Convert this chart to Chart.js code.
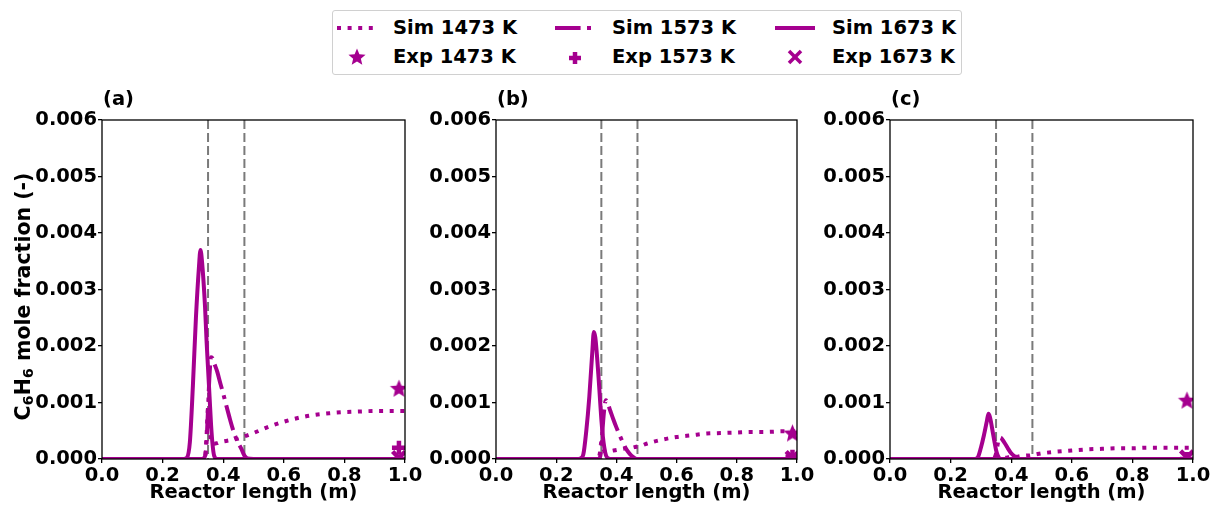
<!DOCTYPE html>
<html>
<head>
<meta charset="utf-8">
<script src="https://cdn.jsdelivr.net/npm/chart.js@4.4.1/dist/chart.umd.min.js"></script>
<style>
  html, body { margin: 0; padding: 0; background: #fff; overflow: hidden; }
  body { width: 1210px; height: 505px; position: relative; font-family: "DejaVu Sans", sans-serif; font-weight: bold; }
  canvas { position: absolute; top: 85px; }
  #legendBox { position: absolute; left: 332px; top: 10px; width: 628px; height: 63px; border: 1px solid #d0d0d0; border-radius: 3px; }
  .lg { position: absolute; height: 24px; line-height: 24px; font-size: 19.5px; color: #000; white-space: nowrap; }
  .lg svg { position: absolute; top: 2px; }
</style>
</head>
<body>
<div id="legendBox"></div>
<canvas id="panelA" width="425" height="420" style="left:0px"></canvas>
<canvas id="panelB" width="410" height="420" style="left:410px"></canvas>
<canvas id="panelC" width="420" height="420" style="left:795px"></canvas>

<script>
// --- data ---
const xGrid = [0, 0.1, 0.2, 0.25, 0.27,
               0.28, 0.29, 0.30, 0.31, 0.32,
               0.325, 0.33, 0.34, 0.345, 0.35,
               0.355, 0.36, 0.365, 0.37, 0.38,
               0.39, 0.40, 0.41, 0.42, 0.43,
               0.44, 0.45, 0.46, 0.47, 0.48,
               0.50, 0.55, 0.60, 0.65, 0.70,
               0.75, 0.80, 0.85, 0.90, 0.95,
               1.0];

// panel (a)
const simA1473 = [0, 0, 0, 0, 0,
                  0, 0, 0, 0, 0,
                  0, 0, 0.00002, 0.0004, 0.0009,
                  0.0006, 0.0003, 0.00028, 0.00027, 0.00028,
                  0.0003, 0.00031, 0.00032, 0.00033, 0.00034,
                  0.00035, 0.00036, 0.00038, 0.0004, 0.00042,
                  0.00046, 0.00057, 0.00066, 0.00073, 0.00078,
                  0.00081, 0.00083, 0.00084, 0.00085, 0.00085,
                  0.00085];
const simA1573 = [0, 0, 0, 0, 0,
                  0, 0, 0, 0, 0,
                  0, 0, 0.00005, 0.0003, 0.0009,
                  0.0015, 0.0018, 0.00178, 0.0017, 0.00155,
                  0.00135, 0.00116, 0.00095, 0.00075, 0.00056,
                  0.0004, 0.00028, 0.00018, 0.00006, 0.00001,
                  0, 0, 0, 0, 0,
                  0, 0, 0, 0, 0,
                  0];
const simA1673 = [0, 0, 0, 0, 0,
                  0.00002, 0.0003, 0.0013, 0.0025, 0.0034,
                  0.0037, 0.0035, 0.0027, 0.0021, 0.0016,
                  0.0011, 0.0006, 0.00025, 0.00006, 0,
                  0, 0, 0, 0, 0,
                  0, 0, 0, 0, 0,
                  0, 0, 0, 0, 0,
                  0, 0, 0, 0, 0,
                  0];

// panel (b)
const simB1473 = [0, 0, 0, 0, 0,
                  0, 0, 0, 0, 0,
                  0, 0, 0, 0.0001, 0.0003,
                  0.0002, 0.00014, 0.00013, 0.00013, 0.00014,
                  0.00015, 0.00016, 0.00017, 0.00018, 0.00019,
                  0.0002, 0.0002, 0.00021, 0.00022, 0.00023,
                  0.00027, 0.00034, 0.00039, 0.00042, 0.00045,
                  0.00046, 0.00047, 0.00048, 0.00048, 0.00049,
                  0.00049];
const simB1573 = [0, 0, 0, 0, 0,
                  0, 0, 0, 0, 0,
                  0, 0, 0, 0.00002, 0.0002,
                  0.0006, 0.0009, 0.00104, 0.001, 0.00085,
                  0.0007, 0.00056, 0.00043, 0.00031, 0.0002,
                  0.00012, 0.00006, 0.00002, 0, 0,
                  0, 0, 0, 0, 0,
                  0, 0, 0, 0, 0,
                  0];
const simB1673 = [0, 0, 0, 0, 0,
                  0.00001, 0.00008, 0.0005, 0.0011, 0.0019,
                  0.00225, 0.00215, 0.0015, 0.0011, 0.0007,
                  0.0004, 0.0002, 0.00007, 0.00002, 0,
                  0, 0, 0, 0, 0,
                  0, 0, 0, 0, 0,
                  0, 0, 0, 0, 0,
                  0, 0, 0, 0, 0,
                  0];

// panel (c)
const simC1473 = [0, 0, 0, 0, 0,
                  0, 0, 0, 0, 0,
                  0, 0, 0, 0.00002, 0.00005,
                  0.00004, 0.00003, 0.00002, 0.00002, 0.00002,
                  0.00003, 0.00003, 0.00004, 0.00004, 0.00005,
                  0.00005, 0.00006, 0.00006, 0.00007, 0.00008,
                  0.0001, 0.00013, 0.00015, 0.00017, 0.00018,
                  0.00019, 0.00019, 0.0002, 0.0002, 0.0002,
                  0.0002];
const simC1573 = [0, 0, 0, 0, 0,
                  0, 0, 0, 0, 0,
                  0, 0, 0, 0.00002, 0.0001,
                  0.00025, 0.00037, 0.00038, 0.00035, 0.00027,
                  0.00018, 0.0001, 0.00005, 0.00002, 0,
                  0, 0, 0, 0, 0,
                  0, 0, 0, 0, 0,
                  0, 0, 0, 0, 0,
                  0];
const simC1673 = [0, 0, 0, 0, 0,
                  0, 0.00003, 0.0002, 0.00042, 0.00068,
                  0.0008, 0.00074, 0.00045, 0.0003, 0.00016,
                  0.00007, 0.00002, 0, 0, 0,
                  0, 0, 0, 0, 0,
                  0, 0, 0, 0, 0,
                  0, 0, 0, 0, 0,
                  0, 0, 0, 0, 0,
                  0];

// experimental points, one per panel (a, b, c)
const expX    = [0.98, 0.985, 0.98];
const exp1473 = [0.00125, 0.00046, 0.00104];
const exp1573 = [0.0002, 0.00004, 0.0];
const exp1673 = [0.00002, 0.00002, 0.00003];

// reactor zone boundaries (grey dashed lines)
const zoneEdges = [0.35, 0.47];

const xTicks = [0, 0.2, 0.4, 0.6, 0.8, 1.0];
const yTicks = [0, 0.001, 0.002, 0.003, 0.004, 0.005, 0.006];

const simLabels = ["Sim 1473 K", "Sim 1573 K", "Sim 1673 K"];
const expLabels = ["Exp 1473 K", "Exp 1573 K", "Exp 1673 K"];
const panelLabels = ["(a)", "(b)", "(c)"];
// y label as pieces: [text, isSubscript]
const yTitleParts = [["C", false], ["6", true], ["H", false], ["6", true], [" mole fraction (-)", false]];

// --- styles ---
const MAGENTA = "#a5008f";
const FONT = { family: "DejaVu Sans", weight: "bold", size: 19.5 };
const DOTTED = [4, 6.6];
const DASHDOT = [25.6, 6.4, 4, 6.4];

function starPoints(cx, cy, r) {
    const pts = [];
    for (let i = 0; i < 10; i++) {
        const rr = i % 2 ? r * 0.45 : r;
        const a = -Math.PI / 2 + i * Math.PI / 5;
        pts.push([cx + rr * Math.cos(a), cy + rr * Math.sin(a)]);
    }
    return pts;
}

function starImage(r) {
    const c = document.createElement("canvas");
    const s = Math.ceil(r * 2 + 2);
    c.width = c.height = s;
    const g = c.getContext("2d");
    g.fillStyle = MAGENTA;
    g.beginPath();
    starPoints(s / 2, s / 2 + 0.8, r).forEach(p => g.lineTo(p[0], p[1]));
    g.closePath();
    g.fill();
    return c;
}
const starImg = starImage(9.5);

// ==========================
// LEGEND (html, above the panels)
// ==========================

function buildLegend() {
    const handleLeft = [337, 555, 775];
    const textLeft = [393, 612, 832];
    const rowY = [28, 57];
    const dashes = [DOTTED, DASHDOT, null];
    let html = "";
    for (let i = 0; i < 3; i++) {
        const da = dashes[i] ? `stroke-dasharray="${dashes[i].join(" ")}"` : "";
        html += `<div class="lg" style="left:${handleLeft[i]}px;top:${rowY[0] - 12}px;width:40px">
            <svg width="40" height="20"><line x1="0" y1="10" x2="40" y2="10" stroke="${MAGENTA}" stroke-width="4" ${da}/></svg></div>`;
        html += `<div class="lg" style="left:${textLeft[i]}px;top:${rowY[0] - 12}px">${simLabels[i]}</div>`;

        let marker;
        if (i === 0) {
            const pts = starPoints(20, 10.5, 9).map(p => p.join(",")).join(" ");
            marker = `<polygon points="${pts}" fill="${MAGENTA}"/>`;
        } else if (i === 1) {
            marker = `<line x1="14" y1="11" x2="26" y2="11" stroke="${MAGENTA}" stroke-width="4.5"/>
                      <line x1="20" y1="5" x2="20" y2="17" stroke="${MAGENTA}" stroke-width="4.5"/>`;
        } else {
            marker = `<line x1="14" y1="4" x2="26" y2="16" stroke="${MAGENTA}" stroke-width="3.5"/>
                      <line x1="26" y1="4" x2="14" y2="16" stroke="${MAGENTA}" stroke-width="3.5"/>`;
        }
        html += `<div class="lg" style="left:${handleLeft[i]}px;top:${rowY[1] - 12}px;width:40px">
            <svg width="40" height="20">${marker}</svg></div>`;
        html += `<div class="lg" style="left:${textLeft[i]}px;top:${rowY[1] - 12}px">${expLabels[i]}</div>`;
    }
    document.body.insertAdjacentHTML("beforeend", html);
}

// ==========================
// PANEL DECORATION: zone lines, frame, (a)/(b)/(c), y title with subscripts
// ==========================

const panelDecor = {
    id: "panelDecor",
    beforeDatasetsDraw(chart) {
        const { ctx, chartArea: a, scales: { x } } = chart;
        ctx.save();
        ctx.strokeStyle = "#7a7a7a";
        ctx.lineWidth = 2;
        ctx.setLineDash([9, 4]);
        zoneEdges.forEach(v => {
            const px = x.getPixelForValue(v);
            ctx.beginPath();
            ctx.moveTo(px, a.top);
            ctx.lineTo(px, a.bottom);
            ctx.stroke();
        });
        ctx.restore();
    },
    afterDatasetsDraw(chart, args, opts) {
        const { ctx, chartArea: a } = chart;
        ctx.save();
        ctx.strokeStyle = "#000";
        ctx.lineWidth = 1.3;
        ctx.strokeRect(a.left, a.top, a.right - a.left, a.bottom - a.top);
        ctx.fillStyle = "#000";
        ctx.font = "bold 19.5px 'DejaVu Sans'";
        ctx.textBaseline = "middle";
        ctx.textAlign = "left";
        ctx.fillText(opts.label, a.left + 1, a.top - 20);

        if (opts.yTitle) {
            const big = "bold 20.5px 'DejaVu Sans'";
            const small = "bold 14.5px 'DejaVu Sans'";
            let total = 0;
            yTitleParts.forEach(([t, sub]) => {
                ctx.font = sub ? small : big;
                total += ctx.measureText(t).width;
            });
            const cy = (a.top + a.bottom) / 2 + 7;
            ctx.translate(22, cy);
            ctx.rotate(-Math.PI / 2);
            ctx.textBaseline = "alphabetic";
            let pos = -total / 2;
            yTitleParts.forEach(([t, sub]) => {
                ctx.font = sub ? small : big;
                ctx.fillText(t, pos, sub ? 11 : 7.5);
                pos += ctx.measureText(t).width;
            });
        }
        ctx.restore();
    }
};

function simSet(ys, dash, order) {
    return {
        data: xGrid.map((x, i) => ({ x: x, y: ys[i] })),
        borderColor: MAGENTA,
        borderWidth: 4,
        borderDash: dash || [],
        borderCapStyle: "butt",
        pointRadius: 0,
        cubicInterpolationMode: "monotone",
        fill: false,
        clip: 0,
        order: order
    };
}

function expSet(x, y, style, radius, order) {
    return {
        data: [{ x: x, y: y }],
        showLine: false,
        pointStyle: style,
        pointRadius: radius,
        borderWidth: 4.5,
        borderColor: MAGENTA,
        backgroundColor: MAGENTA,
        clip: 0,
        order: order
    };
}

function makePanel(id, p, sims, yAxisWidth, rightPad) {
    const ctx = document.getElementById(id).getContext("2d");
    return new Chart(ctx, {
        type: "line",
        data: {
            datasets: [
                simSet(sims[0], DOTTED, 6),
                simSet(sims[1], DASHDOT, 5),
                simSet(sims[2], null, 4),
                expSet(expX[p], exp1473[p], starImg, 9.5, 3),
                expSet(expX[p], exp1573[p], "cross", 7, 2),
                expSet(expX[p], exp1673[p], "crossRot", 9, 1)
            ]
        },
        options: {
            responsive: false,
            animation: false,
            devicePixelRatio: 1,
            events: [],
            layout: { padding: { top: 35, right: rightPad, left: 0, bottom: 0 } },
            plugins: {
                legend: { display: false },
                tooltip: { enabled: false },
                panelDecor: { label: panelLabels[p], yTitle: p === 0 }
            },
            scales: {
                x: {
                    type: "linear",
                    min: 0,
                    max: 1,
                    afterBuildTicks: s => { s.ticks = xTicks.map(v => ({ value: v })); },
                    afterFit: s => { s.height = 46; },
                    ticks: { color: "#000", font: FONT, padding: 1, maxRotation: 0, callback: v => v.toFixed(1) },
                    grid: { drawOnChartArea: false, drawTicks: true, tickLength: 4, color: "#000", lineWidth: 1.3 },
                    border: { display: false },
                    title: { display: true, text: "Reactor length (m)", color: "#000", font: FONT, padding: { top: 0, bottom: 0 } }
                },
                y: {
                    type: "linear",
                    min: 0,
                    max: 0.006,
                    afterBuildTicks: s => { s.ticks = yTicks.map(v => ({ value: v })); },
                    afterFit: s => { s.width = yAxisWidth; },
                    ticks: { color: "#000", font: FONT, padding: 1, callback: v => v.toFixed(3) },
                    grid: { drawOnChartArea: false, drawTicks: true, tickLength: 4, color: "#000", lineWidth: 1.3 },
                    border: { display: false }
                }
            }
        },
        plugins: [panelDecor]
    });
}

buildLegend();
makePanel("panelA", 0, [simA1473, simA1573, simA1673], 102, 20);
makePanel("panelB", 1, [simB1473, simB1573, simB1673], 86, 23);
makePanel("panelC", 2, [simC1473, simC1573, simC1673], 95, 22);
</script>
</body>
</html>
